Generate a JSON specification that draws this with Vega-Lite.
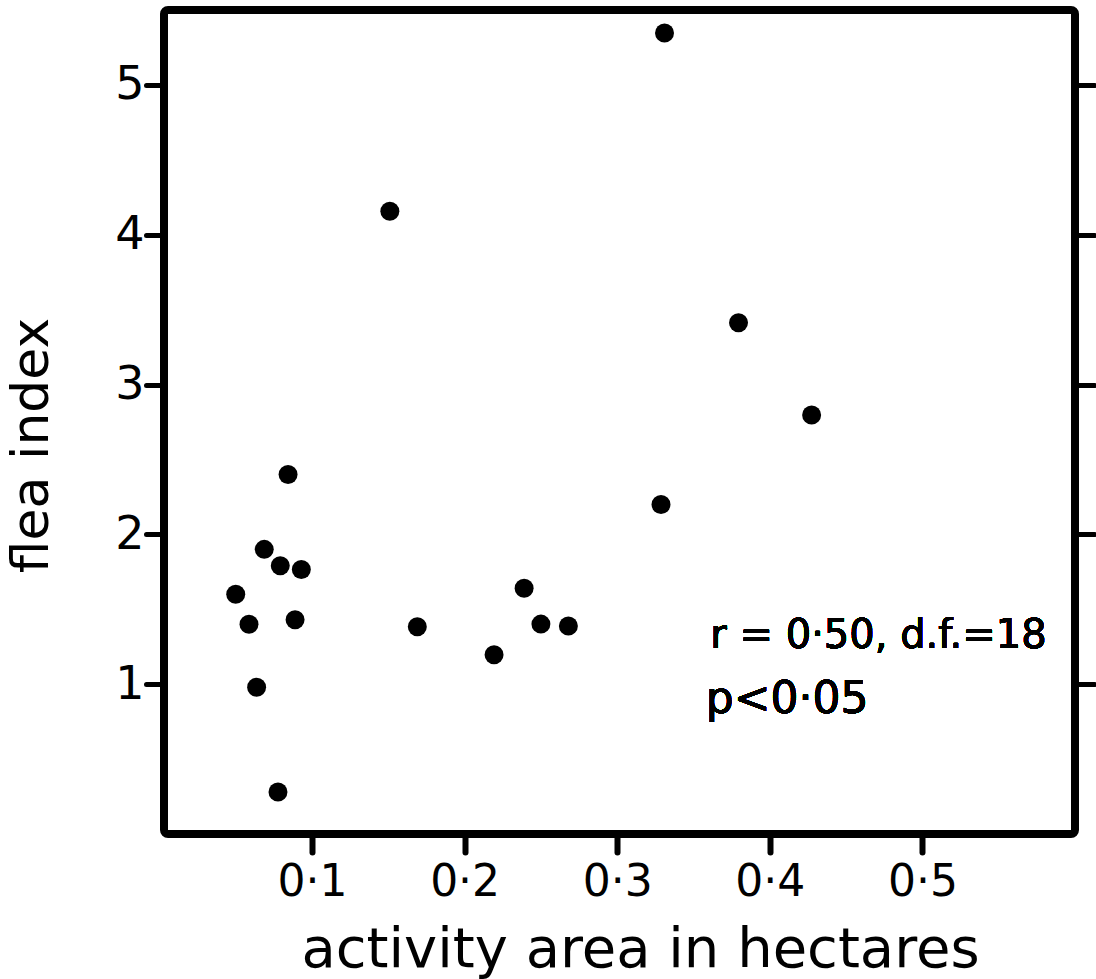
{
  "$schema": "https://vega.github.io/schema/vega-lite/v6.json",
  "autosize": {"type": "none"},
  "width": 911,
  "height": 824,
  "padding": {"left": 164, "top": 10, "right": 21, "bottom": 145},
  "background": "white",
  "config": {
    "view": {"stroke": "black", "strokeWidth": 8, "cornerRadius": 4},
    "font": "DejaVu Sans",
    "axis": {"labelColor": "black", "titleColor": "black", "tickColor": "black", "grid": false, "domain": false, "titleFontWeight": "normal"}
  },
  "data": {
    "values": [
      {"area": 0.0843, "flea": 2.40},
      {"area": 0.0687, "flea": 1.90},
      {"area": 0.0792, "flea": 1.79},
      {"area": 0.0930, "flea": 1.765},
      {"area": 0.0500, "flea": 1.60},
      {"area": 0.0587, "flea": 1.40},
      {"area": 0.0889, "flea": 1.43},
      {"area": 0.0637, "flea": 0.98},
      {"area": 0.0777, "flea": 0.28},
      {"area": 0.1510, "flea": 4.157},
      {"area": 0.1690, "flea": 1.383},
      {"area": 0.2193, "flea": 1.196},
      {"area": 0.2500, "flea": 1.401},
      {"area": 0.2680, "flea": 1.388},
      {"area": 0.2390, "flea": 1.64},
      {"area": 0.3310, "flea": 5.346},
      {"area": 0.3795, "flea": 3.413},
      {"area": 0.4274, "flea": 2.797},
      {"area": 0.3287, "flea": 2.199}
    ]
  },
  "layer": [
    {
      "mark": {"type": "circle", "size": 360, "color": "black", "opacity": 1},
      "encoding": {
        "x": {
          "field": "area", "type": "quantitative",
          "scale": {"domain": [0.003, 0.6], "nice": false, "zero": false},
          "axis": {
            "values": [0.1, 0.2, 0.3, 0.4, 0.5],
            "labelExpr": "replace(format(datum.value, '.1f'), '.', '·')",
            "tickSize": 18, "tickWidth": 6, "tickCap": "round",
            "labelFontSize": 44, "labelPadding": 8, "labelFont": "DejaVu Sans",
            "title": "activity area in hectares",
            "titleFontSize": 56, "titleFont": "DejaVu Sans",
            "titleX": 476, "titleY": 132, "titleAlign": "center", "titleBaseline": "alphabetic", "titleAnchor": null
          }
        },
        "y": {
          "field": "flea", "type": "quantitative",
          "scale": {"domain": [0, 5.5], "nice": false, "zero": false},
          "axis": {
            "values": [1, 2, 3, 4, 5],
            "tickSize": 18, "tickWidth": 5, "tickCap": "round",
            "labelFontSize": 46, "labelPadding": 2, "labelFont": "DejaVu Sans",
            "title": "flea index",
            "titleFontSize": 52, "titleFont": "DejaVu Sans",
            "titleX": -117, "titleY": 435, "titleAngle": -90, "titleAlign": "center", "titleBaseline": "alphabetic", "titleAnchor": null
          }
        }
      }
    },
    {
      "mark": {"type": "circle", "opacity": 0},
      "encoding": {
        "x": {"field": "area", "type": "quantitative", "axis": null},
        "y": {
          "field": "flea", "type": "quantitative",
          "axis": {"orient": "right", "values": [1, 2, 3, 4, 5], "labels": false, "title": null, "tickSize": 19, "tickWidth": 5, "tickCap": "round"}
        }
      }
    },
    {
      "mark": {"type": "text", "align": "left", "baseline": "alphabetic", "fontSize": 40, "font": "DejaVu Sans", "color": "black"},
      "encoding": {
        "x": {"datum": 0.361, "type": "quantitative", "axis": null},
        "y": {"datum": 1.241, "type": "quantitative", "axis": null},
        "text": {"value": "r = 0·50, d.f.=18"}
      }
    },
    {
      "mark": {"type": "text", "align": "left", "baseline": "alphabetic", "fontSize": 44, "font": "DejaVu Sans", "color": "black"},
      "encoding": {
        "x": {"datum": 0.358, "type": "quantitative", "axis": null},
        "y": {"datum": 0.806, "type": "quantitative", "axis": null},
        "text": {"value": "p<0·05"}
      }
    }
  ],
  "resolve": {"axis": {"x": "independent", "y": "independent"}}
}
